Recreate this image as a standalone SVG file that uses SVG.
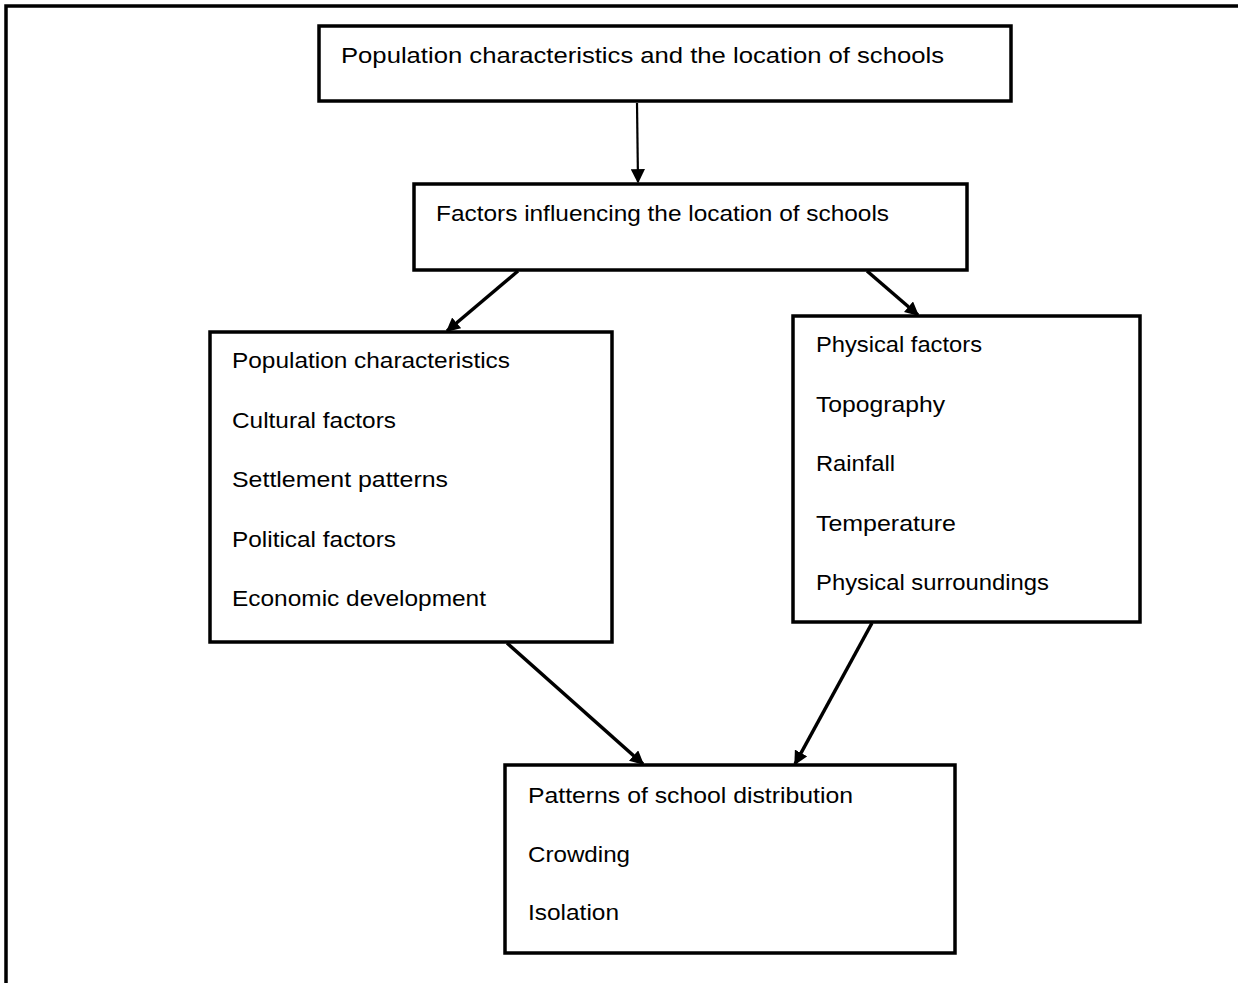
<svg xmlns="http://www.w3.org/2000/svg" width="1238" height="983" viewBox="0 0 1238 983">
<style>
.box{fill:#fff;stroke:#000;stroke-width:3.5}
.t{font-family:"Liberation Sans",Arial,sans-serif;font-size:22px;fill:#000}
.c{stroke:#000;stroke-width:3.5;fill:none}
</style>
<defs>
<marker id="ah" viewBox="0 0 10 10" refX="9" refY="5" markerWidth="4" markerHeight="4" orient="auto" markerUnits="strokeWidth">
<path d="M0,0 L10,5 L0,10 z" fill="#000"/>
</marker>
<marker id="ah2" viewBox="0 0 10 10" refX="9" refY="5" markerWidth="6.5" markerHeight="6.5" orient="auto" markerUnits="strokeWidth">
<path d="M0,0 L10,5 L0,10 z" fill="#000"/>
</marker>
</defs>
<path d="M6,983 V6 H1238" fill="none" stroke="#000" stroke-width="3.5"/>
<g id="n1">
<rect class="box" x="319" y="26" width="692" height="75"/>
<text class="t" x="341" y="63" textLength="603" lengthAdjust="spacingAndGlyphs">Population characteristics and the location of schools</text>
</g>
<g id="n2">
<rect class="box" x="414" y="184" width="553" height="86"/>
<text class="t" x="436" y="221" textLength="453" lengthAdjust="spacingAndGlyphs">Factors influencing the location of schools</text>
</g>
<g id="n3">
<rect class="box" x="210" y="332" width="402" height="310"/>
<text class="t" x="232" y="368" textLength="278" lengthAdjust="spacingAndGlyphs">Population characteristics</text>
<text class="t" x="232" y="427.5" textLength="164" lengthAdjust="spacingAndGlyphs">Cultural factors</text>
<text class="t" x="232" y="487" textLength="216" lengthAdjust="spacingAndGlyphs">Settlement patterns</text>
<text class="t" x="232" y="546.5" textLength="164" lengthAdjust="spacingAndGlyphs">Political factors</text>
<text class="t" x="232" y="606" textLength="254" lengthAdjust="spacingAndGlyphs">Economic development</text>
</g>
<g id="n4">
<rect class="box" x="793" y="316" width="347" height="306"/>
<text class="t" x="816" y="352" textLength="166" lengthAdjust="spacingAndGlyphs">Physical factors</text>
<text class="t" x="816" y="411.5" textLength="129" lengthAdjust="spacingAndGlyphs">Topography</text>
<text class="t" x="816" y="471" textLength="79" lengthAdjust="spacingAndGlyphs">Rainfall</text>
<text class="t" x="816" y="530.5" textLength="140" lengthAdjust="spacingAndGlyphs">Temperature</text>
<text class="t" x="816" y="590" textLength="233" lengthAdjust="spacingAndGlyphs">Physical surroundings</text>
</g>
<g id="n5">
<rect class="box" x="505" y="765" width="450" height="188"/>
<text class="t" x="528" y="803" textLength="325" lengthAdjust="spacingAndGlyphs">Patterns of school distribution</text>
<text class="t" x="528" y="861.5" textLength="102" lengthAdjust="spacingAndGlyphs">Crowding</text>
<text class="t" x="528" y="920" textLength="91" lengthAdjust="spacingAndGlyphs">Isolation</text>
</g>
<g id="connectors">
<line x1="637" y1="103" x2="638" y2="182" stroke="#000" stroke-width="2.2" marker-end="url(#ah2)"/>
<line class="c" x1="518" y1="271" x2="447" y2="331" marker-end="url(#ah)"/>
<line class="c" x1="867" y1="271" x2="918" y2="315" marker-end="url(#ah)"/>
<line class="c" x1="507" y1="643" x2="643" y2="764" marker-end="url(#ah)"/>
<line class="c" x1="872" y1="623" x2="795" y2="764" marker-end="url(#ah)"/>
</g>
</svg>
